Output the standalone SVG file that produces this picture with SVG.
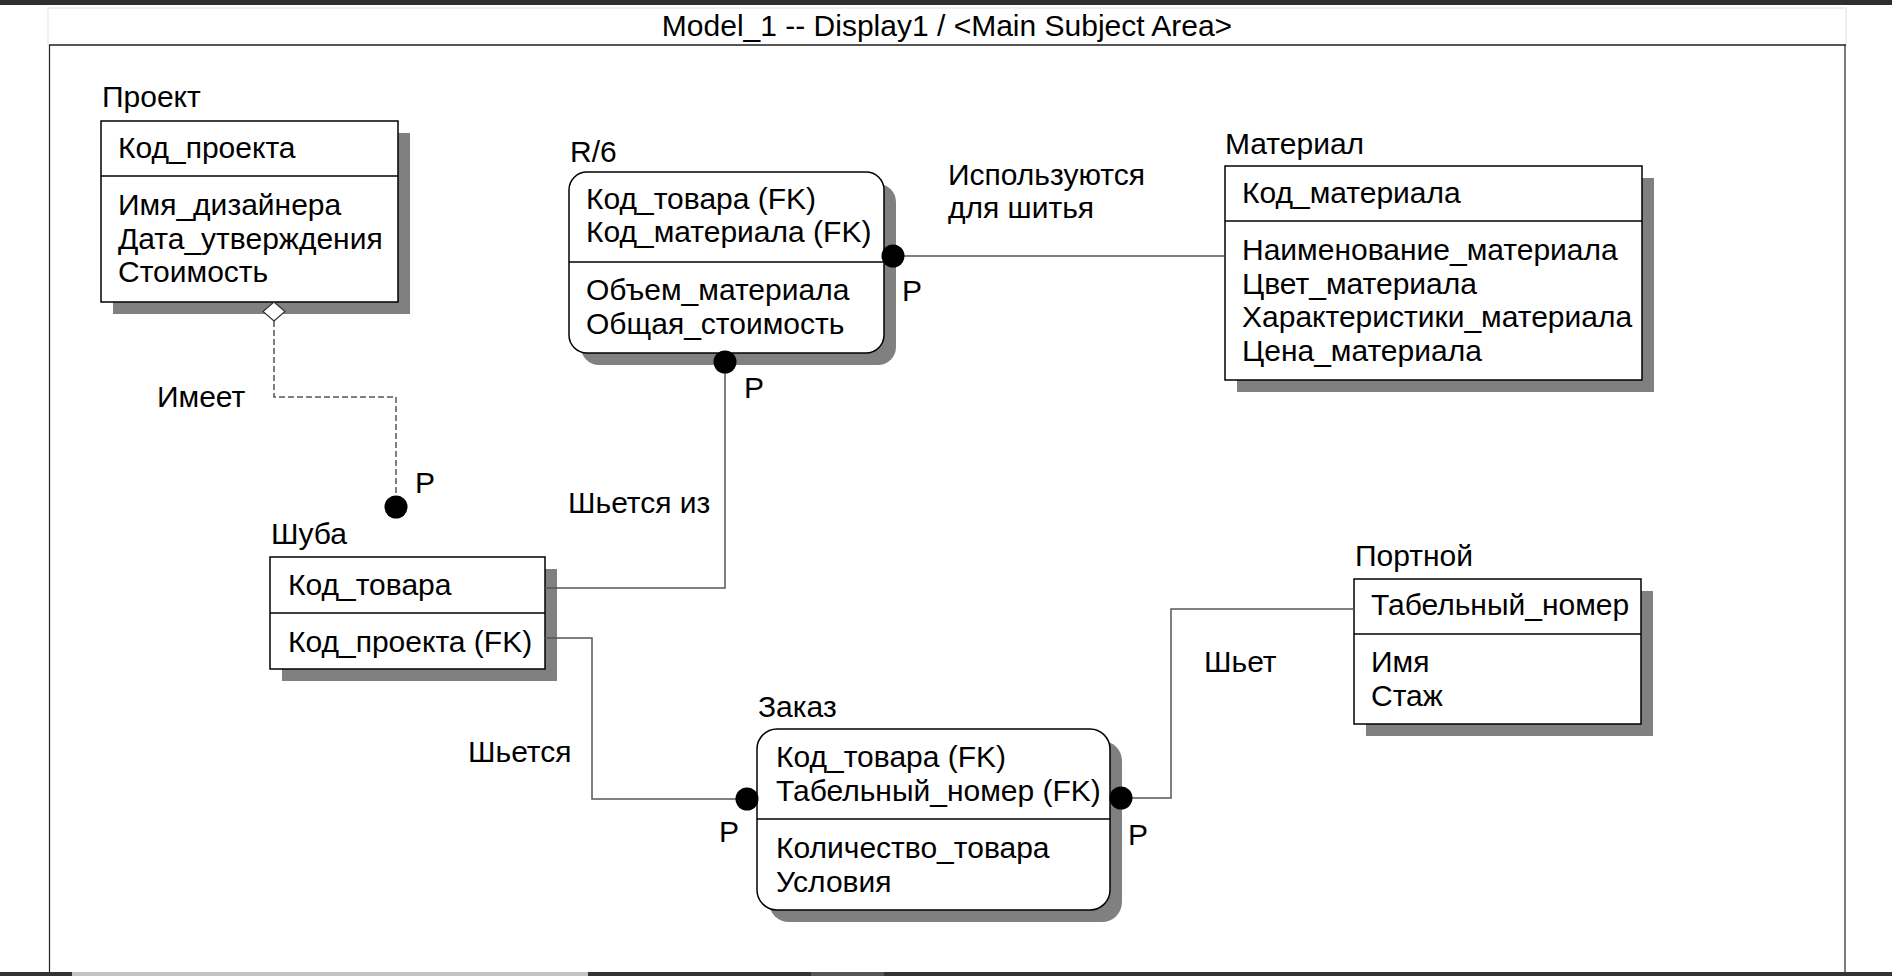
<svg xmlns="http://www.w3.org/2000/svg" width="1892" height="976" viewBox="0 0 1892 976">
<style>
text{font-family:"Liberation Sans",Arial,sans-serif;font-size:30px;fill:#000}
.box{fill:#fff;stroke:#000;stroke-width:1.5}
.sh{fill:#808080}
.div{stroke:#000;stroke-width:1.5}
.con{fill:none;stroke:#555;stroke-width:1.5}
.dash{fill:none;stroke:#555;stroke-width:1.5;stroke-dasharray:6 3}
.dot{fill:#000}
</style>
<rect x="0" y="0" width="1892" height="976" fill="#fff"/>
<g id="frame">
<rect x="0" y="0" width="1892" height="5" fill="#2f2f2f"/>
<rect x="48" y="8" width="1798" height="37" fill="#fff" stroke="#e2e2e2" stroke-width="1"/>
<line x1="49" y1="45" x2="1846" y2="45" stroke="#222" stroke-width="1.5"/>
<line x1="49.5" y1="45" x2="49.5" y2="973" stroke="#222" stroke-width="1.2"/>
<line x1="1845" y1="45" x2="1845" y2="973" stroke="#222" stroke-width="1.2"/>
<text x="947" y="36" text-anchor="middle">Model_1 -- Display1 / &lt;Main Subject Area&gt;</text>
<rect x="0" y="972" width="1892" height="4" fill="#333"/>
<rect x="72" y="972" width="516" height="4" fill="#c4c4c4"/>
<rect x="811" y="972" width="73" height="4" fill="#555"/>
</g>
<g id="proekt">
<text x="102" y="107">Проект</text>
<rect class="sh" x="113" y="133" width="297" height="181"/>
<rect class="box" x="101" y="121" width="297" height="181"/>
<line class="div" x1="101" y1="176" x2="398" y2="176"/>
<text x="118" y="158">Код_проекта</text>
<text x="118" y="215">Имя_дизайнера</text>
<text x="118" y="249">Дата_утверждения</text>
<text x="118" y="282">Стоимость</text>
</g>
<g id="r6">
<text x="570" y="162">R/6</text>
<rect class="sh" x="581" y="184" width="315" height="181" rx="18"/>
<rect class="box" x="569" y="172" width="315" height="181" rx="18"/>
<line class="div" x1="569" y1="262" x2="884" y2="262"/>
<text x="586" y="209">Код_товара (FK)</text>
<text x="586" y="242">Код_материала (FK)</text>
<text x="586" y="300">Объем_материала</text>
<text x="586" y="334">Общая_стоимость</text>
</g>
<g id="material">
<text x="1225" y="154">Материал</text>
<rect class="sh" x="1237" y="178" width="417" height="214"/>
<rect class="box" x="1225" y="166" width="417" height="214"/>
<line class="div" x1="1225" y1="221" x2="1642" y2="221"/>
<text x="1242" y="203">Код_материала</text>
<text x="1242" y="260">Наименование_материала</text>
<text x="1242" y="294">Цвет_материала</text>
<text x="1242" y="327">Характеристики_материала</text>
<text x="1242" y="361">Цена_материала</text>
</g>
<g id="shuba">
<text x="271" y="544">Шуба</text>
<rect class="sh" x="282" y="569" width="275" height="112"/>
<rect class="box" x="270" y="557" width="275" height="112"/>
<line class="div" x1="270" y1="613" x2="545" y2="613"/>
<text x="288" y="595">Код_товара</text>
<text x="288" y="652">Код_проекта (FK)</text>
</g>
<g id="zakaz">
<text x="758" y="717">Заказ</text>
<rect class="sh" x="769" y="741" width="353" height="181" rx="20"/>
<rect class="box" x="757" y="729" width="353" height="181" rx="20"/>
<line class="div" x1="757" y1="819" x2="1110" y2="819"/>
<text x="776" y="767">Код_товара (FK)</text>
<text x="776" y="801">Табельный_номер (FK)</text>
<text x="776" y="858">Количество_товара</text>
<text x="776" y="892">Условия</text>
</g>
<g id="portnoy">
<text x="1355" y="566">Портной</text>
<rect class="sh" x="1366" y="591" width="287" height="145"/>
<rect class="box" x="1354" y="579" width="287" height="145"/>
<line class="div" x1="1354" y1="634" x2="1641" y2="634"/>
<text x="1371" y="615">Табельный_номер</text>
<text x="1371" y="672">Имя</text>
<text x="1371" y="706">Стаж</text>
</g>
<g id="connectors">
<path class="dash" d="M274,321 V397 H396 V500"/>
<polygon points="274,302 285,311.5 274,321 263,311.5" fill="#fff" stroke="#333" stroke-width="1.2"/>
<circle class="dot" cx="396" cy="507" r="11.5"/>
<path class="con" d="M893,256 H1225"/>
<circle class="dot" cx="893" cy="256" r="11.5"/>
<path class="con" d="M725,362 V588 H545"/>
<circle class="dot" cx="725" cy="362" r="11.5"/>
<path class="con" d="M545,638 H592 V799 H747"/>
<circle class="dot" cx="747" cy="799" r="11.5"/>
<path class="con" d="M1121,798 H1171 V609 H1354"/>
<circle class="dot" cx="1121" cy="798" r="11.5"/>
<text x="157" y="407">Имеет</text>
<text x="415" y="493">P</text>
<text x="948" y="185">Используются</text>
<text x="948" y="218">для шитья</text>
<text x="902" y="301">P</text>
<text x="744" y="398">P</text>
<text x="568" y="513">Шьется из</text>
<text x="468" y="762">Шьется</text>
<text x="719" y="842">P</text>
<text x="1128" y="845">P</text>
<text x="1204" y="672">Шьет</text>
</g>
</svg>
